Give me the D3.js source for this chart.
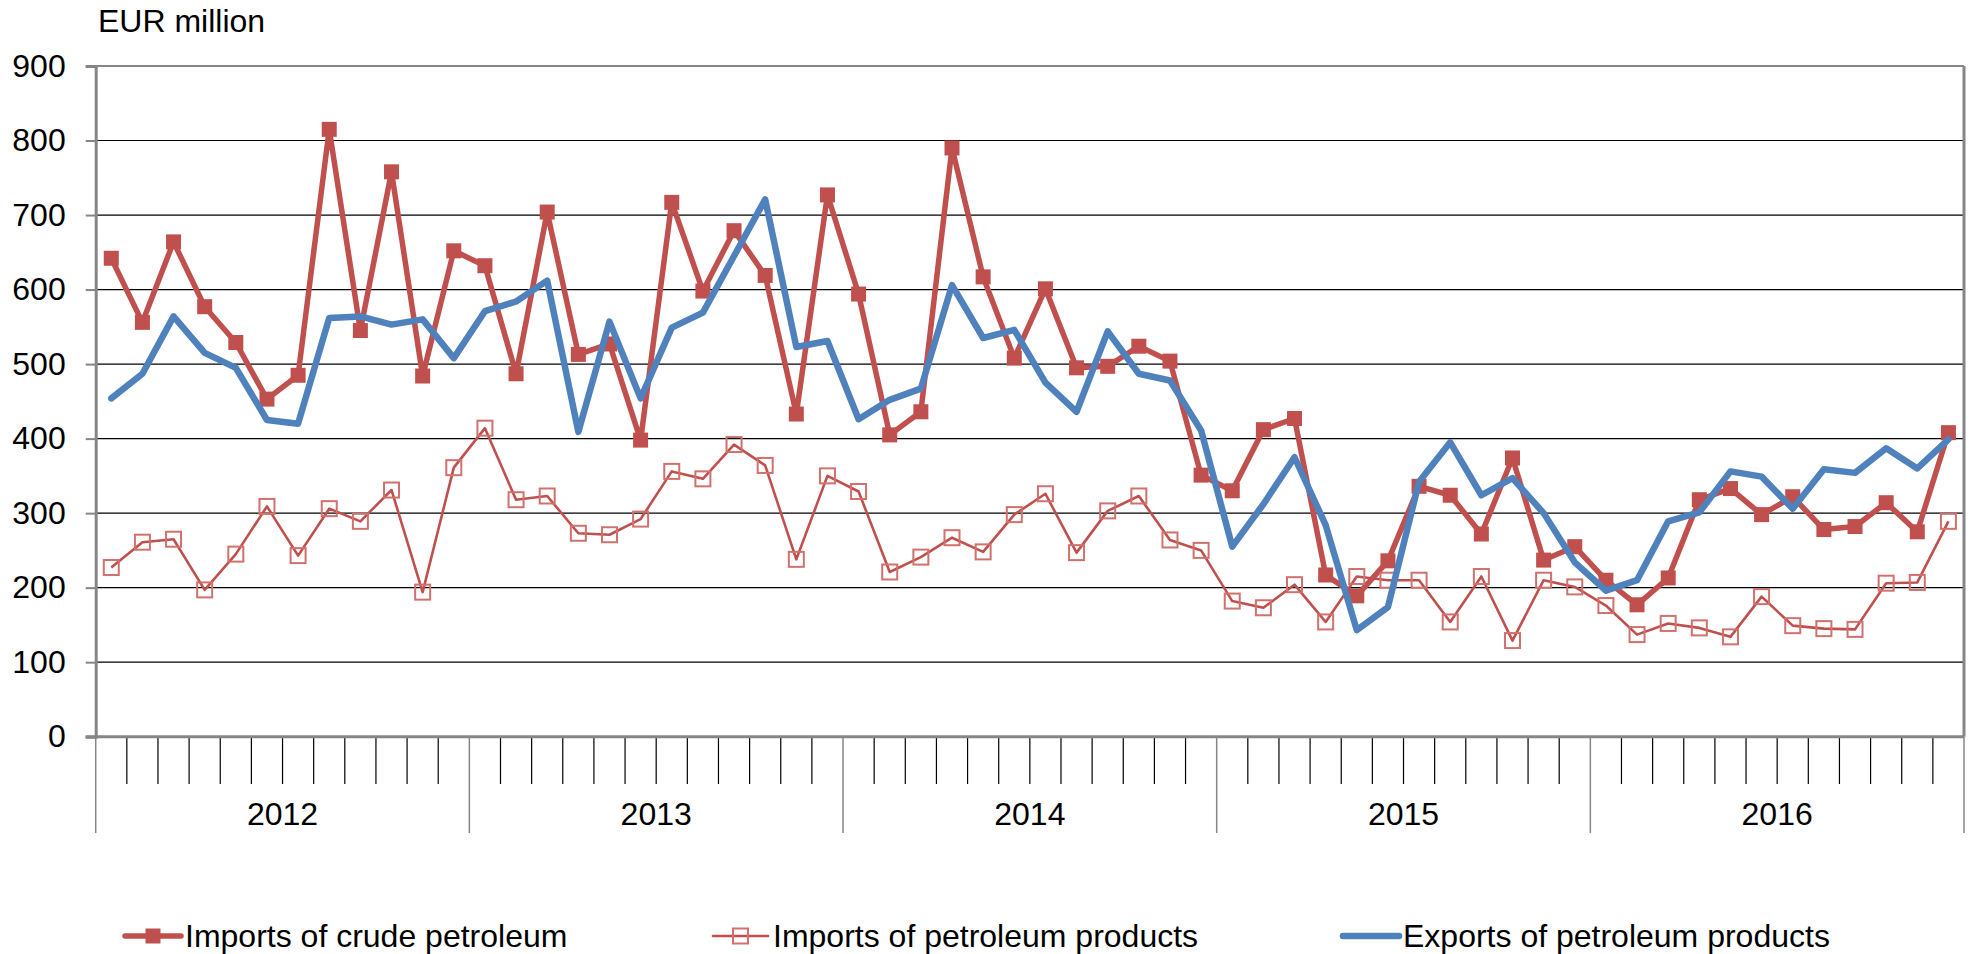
<!DOCTYPE html>
<html>
<head>
<meta charset="utf-8">
<script src="https://cdn.jsdelivr.net/npm/d3@7"></script>
<style>
  html, body { margin: 0; padding: 0; background: #fff; }
  svg { display: block; font-family: "Liberation Sans", Arial, sans-serif; }
</style>
</head>
<body>
<svg id="chart"></svg>
<script>
// DATA
const years = ["2012", "2013", "2014", "2015", "2016"];
const months = years.flatMap(y => d3.range(1, 13).map(m => `${y}-${m}`));
const yTicks = [0, 100, 200, 300, 400, 500, 600, 700, 800, 900];

const crudeImports = [
  642, 556, 664, 577, 529, 453, 485, 815, 545, 758, 484, 652,
  632, 487, 704, 513, 527, 398, 717, 598, 679, 619, 433, 727,
  594, 405, 436, 790, 617, 508, 601, 495, 497, 524, 504, 351,
  330, 412, 427, 217, 189, 236, 336, 324, 272, 374, 237, 255,
  210, 177, 213, 318, 333, 298, 322, 278, 282, 314, 275, 408
];
const productImports = [
  227, 261, 265, 197, 245, 309, 243, 306, 289, 331, 194, 361,
  414, 318, 323, 273, 271, 292, 356, 346, 392, 364, 238, 350,
  329, 221, 241, 267, 248, 298, 326, 247, 303, 323, 264, 250,
  182, 173, 204, 154, 215, 210, 210, 154, 215, 129, 210, 201,
  176, 137, 152, 146, 134, 188, 149, 145, 144, 206, 207, 289
];
const productExports = [
  454, 487, 564, 515, 495, 425, 420, 562, 564, 553, 560, 508,
  571, 584, 612, 409, 557, 454, 549, 569, 645, 721, 523, 531,
  426, 452, 467, 606, 535, 546, 475, 436, 544, 487, 478, 411,
  255, 312, 375, 284, 143, 174, 342, 395, 324, 347, 300, 234,
  196, 210, 289, 301, 356, 349, 306, 359, 354, 387, 360, 399
];

const seriesNames = ["Imports of crude petroleum", "Imports of petroleum products", "Exports of petroleum products"];

const width = 1973, height = 954;
const red = "#C0504D", blue = "#4F81BD", axisGray = "#868686";
const fontSize = 32;

const svg = d3.select("#chart").attr("width", width).attr("height", height);

const plotLeft = 95.7, plotRight = 1964, plotTop = 66, plotBottom = 736.7;

const x = d3.scaleBand().domain(months).range([plotLeft, plotRight]);
const y = d3.scaleLinear().domain([0, 900]).range([plotBottom, plotTop]);
const cx = m => x(m) + x.bandwidth() / 2;

// gridlines
svg.append("g")
  .selectAll("line")
  .data(yTicks.filter(t => t > 0 && t < 900))
  .enter().append("line")
  .attr("x1", plotLeft).attr("x2", plotRight)
  .attr("y1", d => y(d)).attr("y2", d => y(d))
  .attr("stroke", "#000").attr("stroke-width", 1.2);

// top and right border
svg.append("line")
  .attr("x1", plotLeft).attr("x2", plotRight).attr("y1", y(900)).attr("y2", y(900))
  .attr("stroke", axisGray).attr("stroke-width", 2);
svg.append("line")
  .attr("x1", plotRight).attr("x2", plotRight).attr("y1", y(900)).attr("y2", plotBottom)
  .attr("stroke", axisGray).attr("stroke-width", 3);

// y axis
const yAxis = svg.append("g")
  .attr("transform", `translate(${plotLeft},0)`)
  .call(d3.axisLeft(y).tickValues(yTicks).tickSize(10).tickPadding(20).tickFormat(d3.format("d")));
yAxis.select(".domain").attr("stroke", axisGray).attr("stroke-width", 3);
yAxis.selectAll(".tick line").attr("stroke", axisGray).attr("stroke-width", 2);
yAxis.selectAll(".tick text")
  .attr("fill", "#000")
  .style("font-size", fontSize + "px")
  .style("font-family", "Liberation Sans, Arial, sans-serif");

// x axis ticks (month boundaries)
const boundaries = d3.range(months.length + 1);
svg.append("g")
  .selectAll("line")
  .data(boundaries)
  .enter().append("line")
  .attr("x1", i => i < months.length ? x(months[i]) : plotRight)
  .attr("x2", i => i < months.length ? x(months[i]) : plotRight)
  .attr("y1", plotBottom)
  .attr("y2", i => i % 12 === 0 ? 833 : 784)
  .attr("stroke", i => i % 12 === 0 ? axisGray : "#000")
  .attr("stroke-width", i => i % 12 === 0 ? 1.5 : 1.2);

svg.append("line")
  .attr("x1", plotLeft - 10).attr("x2", plotRight).attr("y1", plotBottom).attr("y2", plotBottom)
  .attr("stroke", axisGray).attr("stroke-width", 3);

// year labels
svg.append("g")
  .selectAll("text")
  .data(years)
  .enter().append("text")
  .attr("x", (d, i) => (x(months[i * 12]) + x(months[i * 12 + 11]) + x.bandwidth()) / 2)
  .attr("y", 825)
  .attr("text-anchor", "middle")
  .style("font-size", fontSize + "px")
  .text(d => d);

// unit label
svg.append("text")
  .attr("x", 98).attr("y", 31.5)
  .style("font-size", fontSize + "px")
  .text("EUR million");

// lines
const line = data => d3.line()
  .x((d, i) => cx(months[i]))
  .y(d => y(d))(data);

svg.append("path")
  .attr("d", line(crudeImports))
  .attr("fill", "none").attr("stroke", red).attr("stroke-width", 5.5)
  .attr("stroke-linejoin", "round");
svg.append("g")
  .selectAll("rect")
  .data(crudeImports)
  .enter().append("rect")
  .attr("x", (d, i) => cx(months[i]) - 7.5)
  .attr("y", d => y(d) - 7.5)
  .attr("width", 15).attr("height", 15)
  .attr("fill", red);

svg.append("path")
  .attr("d", line(productImports))
  .attr("fill", "none").attr("stroke", red).attr("stroke-width", 2.6)
  .attr("stroke-linejoin", "round");
svg.append("g")
  .selectAll("rect")
  .data(productImports)
  .enter().append("rect")
  .attr("x", (d, i) => cx(months[i]) - 7.5)
  .attr("y", d => y(d) - 7.5)
  .attr("width", 15).attr("height", 15)
  .attr("fill", "none").attr("stroke", "#D0716E").attr("stroke-width", 2);

svg.append("path")
  .attr("d", line(productExports))
  .attr("fill", "none").attr("stroke", blue).attr("stroke-width", 6.5)
  .attr("stroke-linejoin", "round").attr("stroke-linecap", "round");

// legend
const legendY = 936;
const legendItems = [
  { name: seriesNames[0], x1: 125, x2: 181, tx: 185 },
  { name: seriesNames[1], x1: 713, x2: 768, tx: 773 },
  { name: seriesNames[2], x1: 1343, x2: 1399, tx: 1403 }
];
const lg = svg.append("g");
legendItems.forEach((d, i) => {
  lg.append("line")
    .attr("x1", d.x1).attr("x2", d.x2).attr("y1", legendY).attr("y2", legendY)
    .attr("stroke", i === 2 ? blue : red)
    .attr("stroke-width", i === 0 ? 5.5 : i === 1 ? 2.6 : 6.5)
    .attr("stroke-linecap", "round");
  if (i === 0) {
    lg.append("rect").attr("x", (d.x1 + d.x2) / 2 - 7.5).attr("y", legendY - 7.5)
      .attr("width", 15).attr("height", 15).attr("fill", red);
  } else if (i === 1) {
    lg.append("rect").attr("x", (d.x1 + d.x2) / 2 - 7.5).attr("y", legendY - 7.5)
      .attr("width", 15).attr("height", 15).attr("fill", "none")
      .attr("stroke", "#D0716E").attr("stroke-width", 2);
  }
  lg.append("text")
    .attr("x", d.tx).attr("y", legendY + 11)
    .style("font-size", fontSize + "px")
    .text(d.name);
});
</script>
</body>
</html>
